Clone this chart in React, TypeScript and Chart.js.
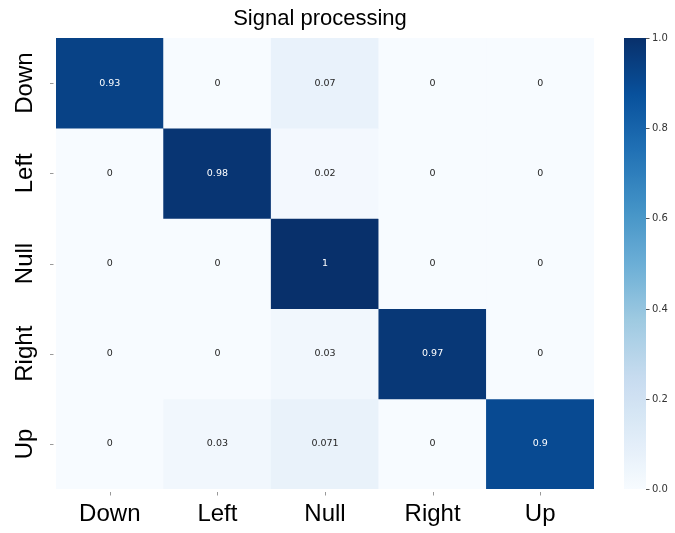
import React, { useEffect, useRef } from "react";
import { Chart, registerables } from "chart.js";

Chart.register(...registerables);

const TITLE = "Signal processing";
const columns = ["Down", "Left", "Null", "Right", "Up"];
const rows = ["Down", "Left", "Null", "Right", "Up"];
const rowDown = [0.93, 0, 0.07, 0, 0];
const rowLeft = [0, 0.98, 0.02, 0, 0];
const rowNull = [0, 0, 1, 0, 0];
const rowRight = [0, 0, 0.03, 0.97, 0];
const rowUp = [0, 0.03, 0.071, 0, 0.9];
const matrix = [rowDown, rowLeft, rowNull, rowRight, rowUp];
const colorbarTicks = [0, 0.2, 0.4, 0.6, 0.8, 1.0];
const colorbarTickLabels = ["0.0", "0.2", "0.4", "0.6", "0.8", "1.0"];

const BLUES: [number, number, number][] = [
  [247, 251, 255],
  [222, 235, 247],
  [198, 219, 239],
  [158, 202, 225],
  [107, 174, 214],
  [66, 146, 198],
  [33, 113, 181],
  [8, 81, 156],
  [8, 48, 107],
];

function bluesRGB(v: number): [number, number, number] {
  const t = Math.max(0, Math.min(1, v)) * (BLUES.length - 1);
  const i = Math.min(BLUES.length - 2, Math.floor(t));
  const f = t - i;
  const a = BLUES[i];
  const b = BLUES[i + 1];
  return [0, 1, 2].map((k) => Math.round(a[k] + (b[k] - a[k]) * f)) as [number, number, number];
}
function blues(v: number): string {
  const c = bluesRGB(v);
  return `rgb(${c[0]},${c[1]},${c[2]})`;
}
function lum(c: [number, number, number]): number {
  const f = (x: number) => {
    const s = x / 255;
    return s <= 0.03928 ? s / 12.92 : Math.pow((s + 0.055) / 1.055, 2.4);
  };
  return 0.2126 * f(c[0]) + 0.7152 * f(c[1]) + 0.0722 * f(c[2]);
}

const heatPlugin = {
  id: "heatExtras",
  afterDraw(chart: any) {
    const ctx = chart.ctx as CanvasRenderingContext2D;
    const ca = chart.chartArea;
    const xs = chart.scales.x;
    const ys = chart.scales.y;
    const cb = chart.scales.cb;
    ctx.save();

    // title
    ctx.fillStyle = "#000";
    ctx.font = '22px "Liberation Sans", Arial, sans-serif';
    ctx.textAlign = "center";
    ctx.textBaseline = "alphabetic";
    ctx.fillText(TITLE, (ca.left + ca.right) / 2 - 5, 25);

    // annotations
    ctx.font = '9.5px "DejaVu Sans", sans-serif';
    ctx.textAlign = "center";
    ctx.textBaseline = "middle";
    matrix.forEach((row, i) => {
      row.forEach((v, j) => {
        const x = xs.getPixelForValue(j);
        const y = ys.getPixelForValue(i + 0.5);
        ctx.fillStyle = lum(bluesRGB(v)) > 0.408 ? "#262626" : "#ffffff";
        ctx.fillText(String(v), x, y);
      });
    });

    // y labels (rotated) and tick marks
    ctx.strokeStyle = "#999";
    ctx.lineWidth = 1;
    rows.forEach((r, i) => {
      const y = ys.getPixelForValue(i + 0.5);
      ctx.beginPath();
      ctx.moveTo(50, Math.round(y) + 0.5);
      ctx.lineTo(53.5, Math.round(y) + 0.5);
      ctx.stroke();
      ctx.save();
      ctx.translate(32, y);
      ctx.rotate(-Math.PI / 2);
      ctx.fillStyle = "#000";
      ctx.font = '24px "Liberation Sans", Arial, sans-serif';
      ctx.textAlign = "center";
      ctx.textBaseline = "alphabetic";
      ctx.fillText(r, 0, 0);
      ctx.restore();
    });
    // x tick marks
    columns.forEach((_, j) => {
      const x = Math.round(xs.getPixelForValue(j)) + 0.5;
      ctx.beginPath();
      ctx.moveTo(x, 492);
      ctx.lineTo(x, 495.5);
      ctx.stroke();
    });

    // colorbar
    const cbLeft = 624;
    const cbRight = 646;
    const yTop = cb.getPixelForValue(1);
    const yBot = cb.getPixelForValue(0);
    const grad = ctx.createLinearGradient(0, yBot, 0, yTop);
    for (let k = 0; k <= 40; k++) {
      grad.addColorStop(k / 40, blues(k / 40));
    }
    ctx.fillStyle = grad;
    ctx.fillRect(cbLeft, yTop, cbRight - cbLeft, yBot - yTop);
    ctx.font = '10px "DejaVu Sans", sans-serif';
    ctx.textAlign = "left";
    ctx.textBaseline = "middle";
    ctx.fillStyle = "#333";
    ctx.strokeStyle = "#555";
    colorbarTicks.forEach((t, k) => {
      const y = Math.round(cb.getPixelForValue(t)) + 0.5;
      ctx.beginPath();
      ctx.moveTo(cbRight, y);
      ctx.lineTo(cbRight + 3.5, y);
      ctx.stroke();
      ctx.fillText(colorbarTickLabels[k], cbRight + 6, y);
    });
    ctx.restore();
  },
};

export default function App() {
  const ref = useRef<HTMLCanvasElement | null>(null);
  useEffect(() => {
    document.body.style.margin = "0";
    const canvas = ref.current;
    if (!canvas) return;
    const datasets = rows.map((r, i) => ({
      label: r,
      data: columns.map(() => 1),
      backgroundColor: matrix[i].map((v) => blues(v)),
      borderWidth: 0,
      barPercentage: 1,
      categoryPercentage: 1,
      stack: "s",
    }));
    const chart = new Chart(canvas, {
      type: "bar",
      data: { labels: columns, datasets },
      options: {
        responsive: false,
        animation: false,
        devicePixelRatio: 1,
        layout: { padding: { top: 38, right: 81, left: 0, bottom: 0 } },
        plugins: { legend: { display: false }, tooltip: { enabled: false }, title: { display: false } },
        scales: {
          x: {
            stacked: true,
            grid: { display: false },
            border: { display: false },
            ticks: {
              color: "#000",
              padding: 3,
              font: { size: 24, family: '"Liberation Sans", Arial, sans-serif' },
            },
            afterFit: (s: any) => {
              s.height = 44;
            },
          },
          y: {
            stacked: true,
            min: 0,
            max: 5,
            reverse: true,
            grid: { display: false },
            border: { display: false },
            ticks: { display: false },
            afterFit: (s: any) => {
              s.width = 56;
            },
          },
          cb: {
            type: "linear",
            position: "right",
            display: false,
            min: 0,
            max: 1,
          },
        },
      } as any,
      plugins: [heatPlugin],
    });
    return () => chart.destroy();
  }, []);
  return (
    <div style={{ width: 675, height: 533, background: "#fff" }}>
      <canvas ref={ref} width={675} height={533} />
    </div>
  );
}
